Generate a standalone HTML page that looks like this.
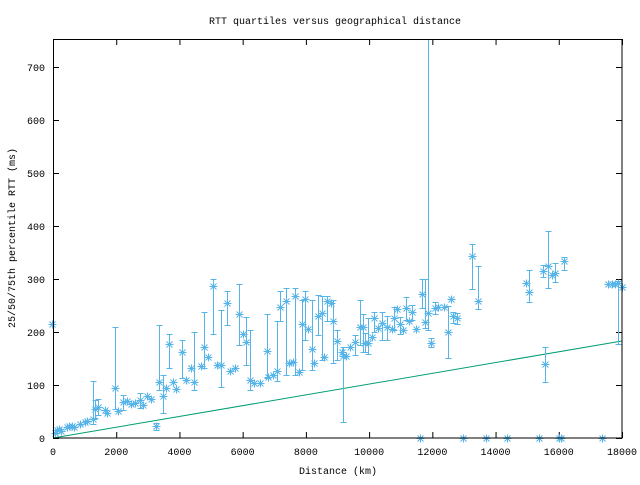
<!DOCTYPE html>
<html><head><meta charset="utf-8"><style>
html,body{margin:0;padding:0;background:#fff;}
svg text{font-family:"Liberation Mono",monospace;font-size:10px;fill:#000;}
</style></head><body>
<svg id="s" width="640" height="480" xmlns="http://www.w3.org/2000/svg">
<rect width="640" height="480" fill="#fff"/>
<text x="335" y="24" text-anchor="middle">RTT quartiles versus geographical distance</text>
<g id="ticks" stroke="#000" stroke-width="1"></g>
<g id="labels"></g>
<text x="338" y="474" text-anchor="middle">Distance (km)</text>
<text transform="translate(15,238) rotate(-90)" text-anchor="middle">25/50/75th percentile RTT (ms)</text>
<line x1="53" y1="438" x2="622" y2="341" stroke="#009E73" stroke-width="1"/>
<g id="pts" stroke="#56B4E9" stroke-width="1" fill="none"></g>
<rect x="53.5" y="39.5" width="568.5" height="398.5" fill="none" stroke="#000" stroke-width="1"/>
</svg>
<script>
var NS="http://www.w3.org/2000/svg";
function el(p,n,a,t){var e=document.createElementNS(NS,n);for(var k in a)e.setAttribute(k,a[k]);if(t)e.textContent=t;p.appendChild(e);return e;}
var T=document.getElementById('ticks'),L=document.getElementById('labels');
for(var i=0;i<=7;i++){var y=438-i*53;
 el(T,'line',{x1:53,y1:y+.5,x2:59,y2:y+.5});el(T,'line',{x1:616,y1:y+.5,x2:622,y2:y+.5});
 el(L,'text',{x:45,y:y+4,'text-anchor':'end'},String(i*100));}
for(var i=0;i<=9;i++){var x=53+i*2000*569/18000;
 el(T,'line',{x1:x+.5,y1:438,x2:x+.5,y2:432});el(T,'line',{x1:x+.5,y1:39,x2:x+.5,y2:45});
 el(L,'text',{x:x,y:455,'text-anchor':'middle'},String(i*2000));}
var D=[[52,324],[55,433],[57,430],[59,429],[61,431],[67,427],[69,426],[72,426],[74,427],[80,424],[85,422],[87,421],
[93,419,381,424],[95,409,400,418],[98,407,399,415],[105,410],[107,413],[115,388,327,409],[118,411],[123,402,395,410],[127,401],
[131,404],[135,403],[140,400,393,408],[143,405],[147,396],[151,399],[156,426,423,430],[159,382,325,390],[163,396,375,413],
[166,388],[169,344,334,368],[173,382],[176,389],[182,352,340,378],[186,380],[191,368],[194,382,332,390],[201,366],
[204,347,312,368],[208,357],[213,286,279,334],[217,365],[221,365,310,387],[227,303,291,325],[230,371],[235,368],
[239,314,284,345],[243,334],[246,342,317,365],[250,380,330,390],[254,383],[260,383],[267,351,314,378],[268,377],
[273,375],[277,371,321,381],[280,307,291,321],[286,301,288,375],[289,363],[293,362],[295,296,288,375],[299,372],
[302,324,300,370],[305,299,291,340],[308,329],[312,349,300,370],[314,363],[318,316,295,335],[322,313,296,360],
[324,357],[327,301,296,321],[331,303],[333,321,300,363],[337,341,330,360],[342,352],[343,356,347,422],[346,356],
[350,347],[355,342,335,355],[360,327,300,345],[363,327,314,352],[365,343,333,352],[368,343,318,354],[372,337],
[374,318,312,332],[378,328],[382,323,312,340],[387,327,316,340],[392,329],[394,318,307,330],[397,309],[400,324,317,334],
[403,330],[406,308,297,320],[409,321],[412,312,305,320],[416,329],[422,294,279,308],[425,322,279,328],[428,313,39,330],
[431,343,338,347],[435,308,302,314],[438,307],[444,307],[448,332,306,358],[451,299],[453,316,312,323],[457,318,313,324],
[472,256,244,289],[478,301,266,309],[526,283],[529,292,270,302],[543,271,265,277],[545,364,347,382],[548,266,231,288],
[552,275],[555,273,263,282],[564,261,257,270],[608,284],[612,284],[615,284],[618,283,281,344],[622,287],
[420,438],[463,438],[486,438],[507,438],[539,438],[559,438],[561,438],[602,438]];
var P=document.getElementById('pts');
D.forEach(function(d){var x=d[0]+.5,y=d[1]+.5;
 if(d.length>2){el(P,'line',{x1:x,y1:d[2],x2:x,y2:d[3]});
  el(P,'line',{x1:x-3,y1:d[2]+.5,x2:x+3,y2:d[2]+.5});el(P,'line',{x1:x-3,y1:d[3]+.5,x2:x+3,y2:d[3]+.5});}
 el(P,'path',{d:'M'+(x-4)+' '+y+'h8M'+x+' '+(y-4)+'v8M'+(x-3)+' '+(y-3)+'l6 6M'+(x-3)+' '+(y+3)+'l6 -6'});
});
</script>
</body></html>
